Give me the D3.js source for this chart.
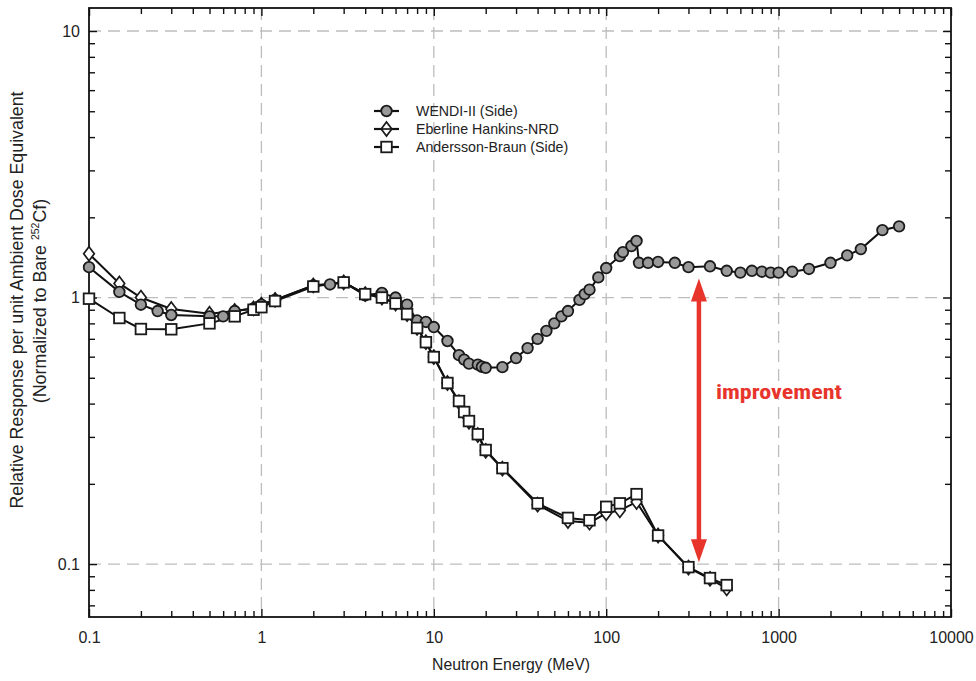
<!DOCTYPE html>
<html><head><meta charset="utf-8">
<script src="https://cdn.jsdelivr.net/npm/d3@7"></script>
<style>
body{margin:0;background:#fff;}
svg{display:block;font-family:"Liberation Sans",Arial,Helvetica,sans-serif;}
</style></head>
<body><svg id="c" width="976" height="681"></svg>
<script>
// ---- data ----
const wendiE = [0.1,0.15,0.2,0.25,0.3,0.5,0.6,0.7,0.9,1.0,1.2,2,2.5,3,4,5,6,7,8,9,10,12,14,15,16,18,19,20,25,30,35,40,45,50,55,60,70,75,80,90,100,120,125,140,150,155,175,200,250,300,400,500,600,700,800,900,1000,1200,1500,2000,2500,3000,4000,5000];
const wendiR = [1.30,1.05,0.94,0.89,0.86,0.85,0.85,0.89,0.91,0.94,0.98,1.11,1.12,1.14,1.02,1.04,1.00,0.94,0.82,0.81,0.775,0.687,0.608,0.585,0.565,0.56,0.55,0.545,0.548,0.593,0.646,0.70,0.75,0.80,0.85,0.89,0.98,1.03,1.07,1.19,1.29,1.43,1.48,1.56,1.63,1.35,1.35,1.36,1.35,1.30,1.31,1.26,1.24,1.26,1.25,1.24,1.24,1.25,1.28,1.35,1.44,1.52,1.79,1.85];
const eberE = [0.1,0.15,0.2,0.3,0.5,0.7,0.9,1.0,1.2,2,3,4,5,6,7,8,9,10,12,14,15,16,18,20,25,40,60,80,100,120,150,200,300,400,500];
const eberR = [1.46,1.13,1.00,0.906,0.87,0.89,0.91,0.94,0.98,1.11,1.14,1.03,1.00,0.95,0.867,0.769,0.68,0.598,0.478,0.405,0.37,0.342,0.305,0.266,0.228,0.167,0.145,0.143,0.155,0.159,0.171,0.128,0.097,0.088,0.081];
const abE = [0.1,0.15,0.2,0.3,0.5,0.7,0.9,1.0,1.2,2,3,4,5,6,7,8,9,10,12,14,15,16,18,20,25,40,60,80,100,120,150,200,300,400,500];
const abR = [0.99,0.838,0.762,0.76,0.80,0.85,0.90,0.92,0.97,1.10,1.14,1.03,1.00,0.95,0.867,0.769,0.68,0.598,0.478,0.409,0.372,0.344,0.307,0.268,0.229,0.169,0.149,0.146,0.164,0.169,0.183,0.128,0.0974,0.0886,0.0834];
const seriesNames = ["WENDI-II (Side)","Eberline Hankins-NRD","Andersson-Braun (Side)"];
const xTickLabels = ["0.1","1","10","100","1000","10000"];
const yTickLabels = ["0.1","1","10"];
const arrowE = 345, arrowTop = 1.18, arrowBottom = 0.1015;
const annotationText = "improvement";

// ---- layout ----
const svg = d3.select("#c");
const L=89,R=951,T=8,B=617;
const x = d3.scaleLog().domain([0.1,10000]).range([L,R]);
const y = d3.scaleLog().domain([0.0633,12.2]).range([B,T]);

const xMajor = xTickLabels.map(Number);
const yMajor = yTickLabels.map(Number);
const xMinor=[], yMinor=[];
for(let d=0.1; d<10000; d*=10) for(let k=2;k<=9;k++) xMinor.push(+(d*k).toPrecision(3));
for(let d=0.01; d<100; d*=10) for(let k=2;k<=9;k++){const v=+(d*k).toPrecision(3); if(v>0.0633&&v<12.2) yMinor.push(v);}

// grid
const g = svg.append("g");
g.selectAll(".gx").data(xMajor.filter(v=>v>0.1&&v<10000)).enter().append("line")
 .attr("x1",d=>x(d)).attr("x2",d=>x(d)).attr("y1",T).attr("y2",B)
 .attr("stroke","#bdbdbd").attr("stroke-width",1.3).attr("stroke-dasharray","12,7");
g.selectAll(".gy").data(yMajor).enter().append("line")
 .attr("y1",d=>y(d)).attr("y2",d=>y(d)).attr("x1",L).attr("x2",R)
 .attr("stroke","#bdbdbd").attr("stroke-width",1.3).attr("stroke-dasharray","12,7");

// axes
function styleAxis(sel){sel.select(".domain").remove(); sel.selectAll("line").attr("stroke","#111").attr("stroke-width",1.4);
 sel.selectAll("text").attr("fill","#222").style("font-size","16px");}
const fmt=(v)=>xTickLabels[xMajor.indexOf(v)];
svg.append("g").attr("transform",`translate(0,${B})`).call(d3.axisBottom(x).tickValues(xMajor).tickSize(-8).tickPadding(15).tickFormat(fmt)).call(styleAxis);
svg.append("g").attr("transform",`translate(0,${B})`).call(d3.axisBottom(x).tickValues(xMinor).tickSize(-6).tickFormat("")).call(styleAxis);
svg.append("g").attr("transform",`translate(0,${T})`).call(d3.axisTop(x).tickValues(xMajor).tickSize(-8).tickFormat("")).call(styleAxis);
svg.append("g").attr("transform",`translate(0,${T})`).call(d3.axisTop(x).tickValues(xMinor).tickSize(-6).tickFormat("")).call(styleAxis);
svg.append("g").attr("transform",`translate(${L},0)`).call(d3.axisLeft(y).tickValues(yMajor).tickSize(-8).tickPadding(9).tickFormat(v=>yTickLabels[yMajor.indexOf(v)])).call(styleAxis);
svg.append("g").attr("transform",`translate(${L},0)`).call(d3.axisLeft(y).tickValues(yMinor).tickSize(-6).tickFormat("")).call(styleAxis);
svg.append("g").attr("transform",`translate(${R},0)`).call(d3.axisRight(y).tickValues(yMajor).tickSize(-8).tickFormat("")).call(styleAxis);
svg.append("g").attr("transform",`translate(${R},0)`).call(d3.axisRight(y).tickValues(yMinor).tickSize(-6).tickFormat("")).call(styleAxis);
svg.append("rect").attr("x",L).attr("y",T).attr("width",R-L).attr("height",B-T).attr("fill","none").attr("stroke","#111").attr("stroke-width",1.8);

// lines & markers
const line = d3.line().x(d=>x(d[0])).y(d=>y(d[1]));
const sets = [
 {E:wendiE,R:wendiR,shape:"circle"},
 {E:eberE,R:eberR,shape:"diamond"},
 {E:abE,R:abR,shape:"square"}
];
function marker(sel,shape){
 if(shape==="circle") sel.append("circle").attr("r",5.3).attr("fill","#999").attr("stroke","#1a1a1a").attr("stroke-width",1.8);
 else if(shape==="square") sel.append("rect").attr("x",-5.3).attr("y",-5.3).attr("width",10.6).attr("height",10.6).attr("fill","#fff").attr("stroke","#1a1a1a").attr("stroke-width",1.8);
 else sel.append("path").attr("d","M0,-7L5.3,0L0,7L-5.3,0Z").attr("fill","#fff").attr("stroke","#1a1a1a").attr("stroke-width",1.7);
}
[1,0,2].forEach(i=>{
 const s=sets[i]; const pts=s.E.map((e,j)=>[e,s.R[j]]);
 svg.append("path").datum(pts).attr("d",line).attr("fill","none").attr("stroke","#111").attr("stroke-width",2);
});
[1,0,2].forEach(i=>{
 const s=sets[i]; const pts=s.E.map((e,j)=>[e,s.R[j]]);
 svg.append("g").selectAll("g").data(pts).enter().append("g")
  .attr("transform",d=>`translate(${x(d[0])},${y(d[1])})`).each(function(){marker(d3.select(this),s.shape);});
});

// legend
const lg = svg.append("g").attr("transform","translate(374,111)");
seriesNames.forEach((n,i)=>{
 const r=lg.append("g").attr("transform",`translate(0,${i*18})`);
 r.append("line").attr("x1",0).attr("x2",25).attr("stroke","#111").attr("stroke-width",2.2);
 const m=r.append("g").attr("transform","translate(12.5,0)"); marker(m,sets[i].shape);
 if(sets[i].shape==="diamond") m.append("line").attr("x1",-5).attr("x2",5).attr("stroke","#111").attr("stroke-width",1.6);
 r.append("text").attr("x",42).attr("y",5).text(n).style("font-size","14.2px").attr("fill","#222");
});

// axis titles
svg.append("text").attr("x",511).attr("y",670).attr("text-anchor","middle").style("font-size","15.8px").attr("fill","#222").text("Neutron Energy (MeV)");
svg.append("text").attr("transform","translate(23,300) rotate(-90)").attr("text-anchor","middle").style("font-size","17.8px").attr("fill","#222").text("Relative Response per unit Ambient Dose Equivalent");
const t2=svg.append("text").attr("transform","translate(46,301) rotate(-90)").attr("text-anchor","middle").style("font-size","17.8px").attr("fill","#222");
t2.append("tspan").text("(Normalized to Bare ");
t2.append("tspan").attr("dy",-7).style("font-size","10.5px").text("252");
t2.append("tspan").attr("dy",7).text("Cf)");

// annotation arrow
const red="#e8352c";
const ax=x(arrowE), ay1=y(arrowTop), ay2=y(arrowBottom);
svg.append("line").attr("x1",ax).attr("x2",ax).attr("y1",ay1+18).attr("y2",ay2-18).attr("stroke",red).attr("stroke-width",4.5);
svg.append("path").attr("d",`M${ax},${ay1}L${ax+8},${ay1+23}L${ax-8},${ay1+23}Z`).attr("fill",red);
svg.append("path").attr("d",`M${ax},${ay2}L${ax+8},${ay2-23}L${ax-8},${ay2-23}Z`).attr("fill",red);
svg.append("text").attr("x",ax+17).attr("y",399).style("font-family","'Liberation Sans Narrow','Roboto Condensed',Arial,sans-serif").style("font-weight","bold").style("font-size","20px").attr("textLength",126).attr("lengthAdjust","spacingAndGlyphs").attr("fill",red).text(annotationText);
</script></body></html>
